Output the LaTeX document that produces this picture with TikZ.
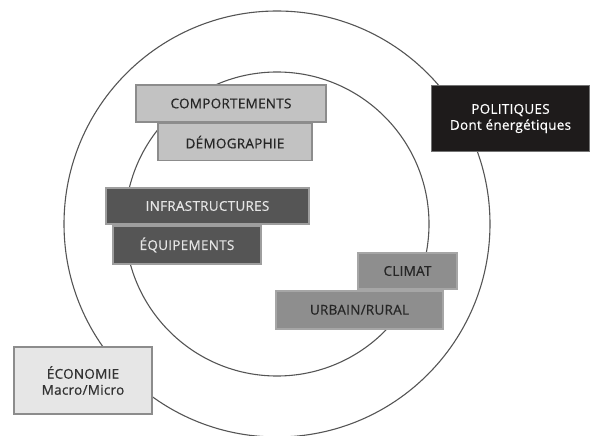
\documentclass[tikz,border=0pt]{standalone}
\usepackage{fontspec}
\setmainfont{Open Sans}[LetterSpace=2.0,FakeBold=0.6]
\usepackage{tikz}
\usetikzlibrary{positioning}

\definecolor{ringgray}{HTML}{555555}
\definecolor{palefill}{HTML}{E6E6E6}
\definecolor{lightfill}{HTML}{C2C2C2}
\definecolor{midfill}{HTML}{8E8E8E}
\definecolor{darkfill}{HTML}{555555}
\definecolor{blackfill}{HTML}{1E1B1B}

\begin{document}
\begin{tikzpicture} [
					x=1pt,y=-1pt,
					every node/.style={font=\fontsize{13.5}{16}\selectfont},
					ring/.style={draw=ringgray,line width=1.1pt},
					box/.style={rectangle,draw,line width=1.6pt,inner sep=0pt,align=center},
					palebox/.style={box,fill=palefill,draw=black!45,text=black!80},
					lightbox/.style={box,fill=lightfill,draw=black!45,text=black!85},
					midbox/.style={box,fill=midfill,draw=black!35,text=black!85},
					darkbox/.style={box,fill=darkfill,draw=black!38,text=black!10},
					blackbox/.style={box,fill=blackfill,draw=black!55,text=white},
				]
				\useasboundingbox (0,0) rectangle (595,436);
				
				% the two rings
				\coordinate (centre) at (277,224);
				\draw[ring] (centre) circle (213pt);
				\draw[ring] (centre) circle (152pt);
				
				\node[lightbox,minimum width=190,minimum height=37] (comport) at (231,103.5) {COMPORTEMENTS};
				\node[lightbox,minimum width=154,minimum height=37,below=0pt of comport,xshift=4pt] (demog) {DÉMOGRAPHIE};
				
				\node[darkbox,minimum width=203,minimum height=36.5] (infra) at (207.5,206) {INFRASTRUCTURES};
				\node[darkbox,minimum width=148,minimum height=38,below=0pt of infra,xshift=-20.5pt] (equip) {ÉQUIPEMENTS};
				
				\node[midbox,minimum width=99,minimum height=36.5] (climat) at (407.5,271) {CLIMAT};
				\node[midbox,minimum width=167,minimum height=38,below=0pt of climat,xshift=-48pt] (urbain) {URBAIN/RURAL};
				
				\node[palebox,minimum width=138,minimum height=67] (econ) at (83,380.5) {ÉCONOMIE\\Macro/Micro};
				\node[blackbox,minimum width=158,minimum height=66] (polit) at (510.5,118.5) {POLITIQUES\\Dont énergétiques};
				
			\end{tikzpicture}
\end{document}
